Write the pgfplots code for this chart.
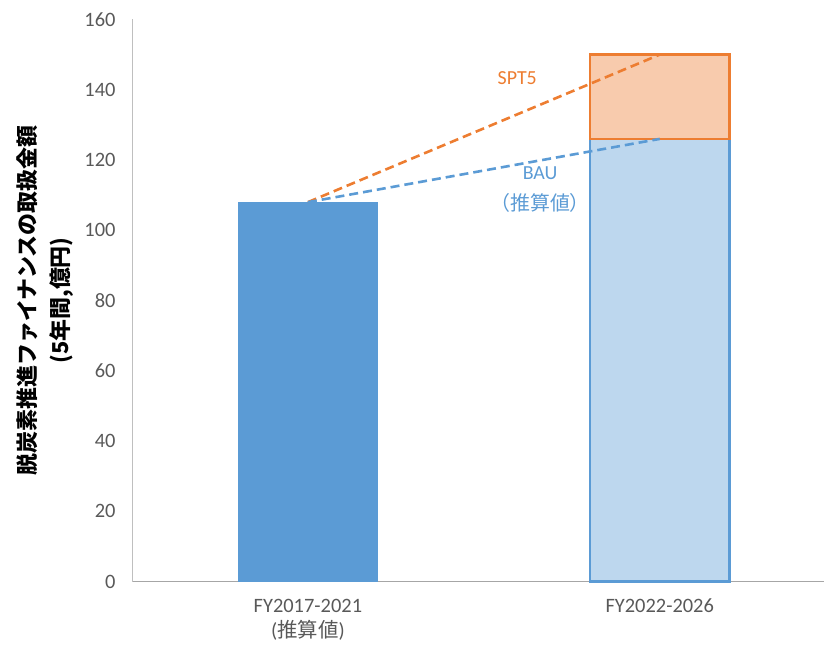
\documentclass[border=0pt]{standalone}
\usepackage{pgfplots}
\pgfplotsset{compat=1.18}
\usepackage{fontspec}
\setmainfont{Carlito}
\newfontfamily\cjk{Noto Sans CJK JP}
\definecolor{cblue}{HTML}{5B9BD5}
\definecolor{clblue}{HTML}{BDD7EE}
\definecolor{corange}{HTML}{ED7D31}
\definecolor{clorange}{HTML}{F8CBAD}
\definecolor{ctick}{HTML}{595959}
\definecolor{cxaxis}{HTML}{A6A6A6}
\definecolor{cyaxis}{HTML}{BFBFBF}
\begin{document}
\begin{tikzpicture}
\useasboundingbox (0,0) rectangle (824bp,645bp);
\begin{axis}[
  at={(132bp,63.5bp)}, anchor=south west,
  scale only axis, width=692bp, height=562bp,
  xmin=-0.5, xmax=1.467, ymin=0, ymax=160,
  axis x line*=bottom, axis y line*=left,
  x axis line style={draw=cxaxis, line width=1.6bp, -},
  y axis line style={draw=cyaxis, line width=0.9bp, -},
  major tick length=0pt,
  xtick={0,1},
  xticklabels={{FY2017-2021\\({\cjk 推算値})}, {FY2022-2026}},
  ytick={0,20,...,160},
  /pgf/number format/assume math mode=true,
  tick label style={font=\fontsize{20.5}{25}\selectfont, text=ctick},
  xticklabel style={align=center, yshift=-14bp},
  yticklabel style={xshift=-13bp},
  ylabel={脱炭素推進ファイナンスの取扱金額\\(5年間,億円)},
  ylabel style={at={(axis description cs:-0.1257,0.5)}, anchor=center, align=center, font=\cjk\bfseries\fontsize{22}{34}\selectfont},
  clip=false,
]
\addplot[ybar, bar shift=0pt, bar width=0.40, fill=cblue, draw=none] coordinates {(0,108)};
\addplot[ybar, bar shift=0pt, bar width=0.396, fill=clblue, draw=cblue, line width=2.5bp] coordinates {(1,126)};
\addplot[fill=clorange, draw=corange, line width=2.5bp] coordinates {(0.802,126) (0.802,150) (1.198,150) (1.198,126)} -- cycle;
\addplot[corange, line width=2.6bp, dash pattern=on 9bp off 5bp] coordinates {(0,108) (1,150)};
\addplot[cblue, line width=2.6bp, dash pattern=on 9bp off 5bp] coordinates {(0,108) (1,126)};
\node[text=corange, font=\fontsize{20}{24}\selectfont] at (axis cs:0.595,143.2) {SPT5};
\node[text=cblue, font=\fontsize{20}{24}\selectfont] at (axis cs:0.66,116.2) {BAU};
\node[text=cblue, font=\cjk\fontsize{20}{24}\selectfont] at (axis cs:0.66,107.8) {（推算値）};
\end{axis}
\end{tikzpicture}
\end{document}
